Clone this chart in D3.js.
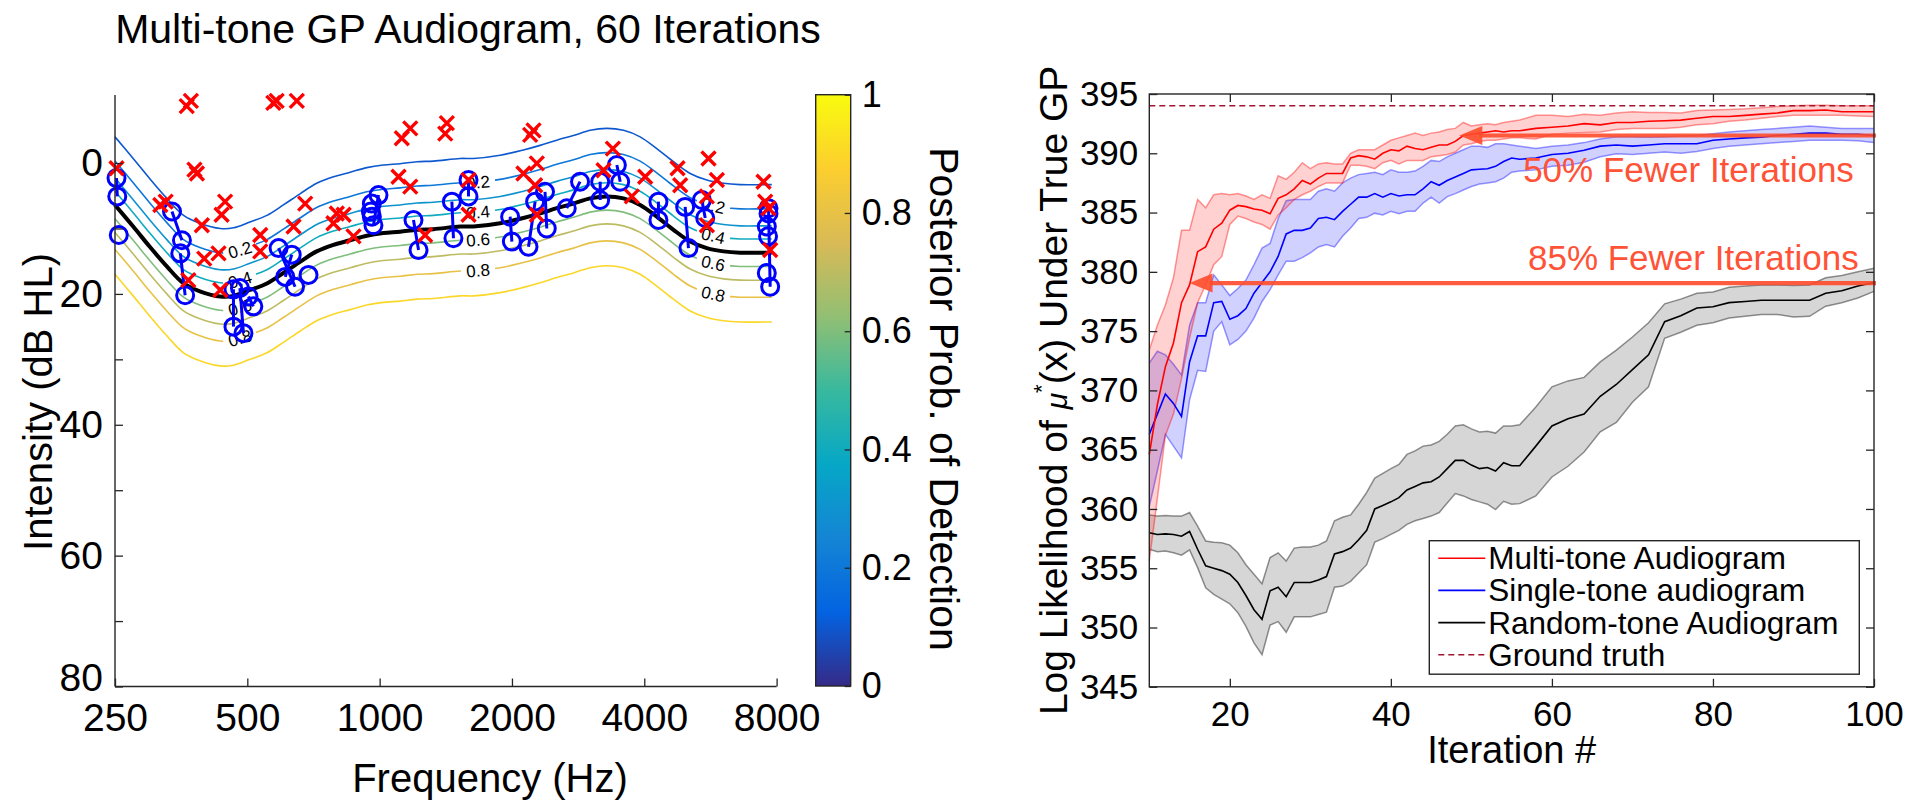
<!DOCTYPE html>
<html>
<head>
<meta charset="utf-8">
<script src="https://cdn.jsdelivr.net/npm/d3@7"></script>
<style>
body { margin: 0; background: #fff; }
text { font-family: "Liberation Sans", Arial, Helvetica, sans-serif; fill: #000; }
</style>
</head>
<body>
<div id="mainDiv"></div>
<script>
// ---------- left panel data ----------
// p = 0.5 threshold curve
var thrFreq = [250, 275, 300, 328, 358, 390, 434, 465, 507, 554, 604, 659, 719, 785, 857, 935, 1020, 1113, 1215, 1326, 1525, 1635, 1880, 2124, 2318, 2529, 2760, 3012, 3287, 3587, 3914, 4271, 4661, 5087, 5551, 6057, 6610, 7470, 7800];
var thrDb   = [6.4, 9.7, 12.8, 15.8, 18.4, 19.6, 20.4, 20.3, 19.4, 18.4, 16.8, 15.1, 13.5, 12.5, 11.8, 11.1, 10.7, 10.5, 10.2, 10.1, 9.7, 9.7, 9.2, 8.4, 7.7, 6.9, 6.2, 5.4, 5.1, 5.4, 6.4, 8.2, 10.2, 12.0, 13.0, 13.5, 13.7, 13.7, 13.7];
// contour levels and their distance (dB) from the threshold curve
var levels = [0.1, 0.2, 0.3, 0.4, 0.5, 0.6, 0.7, 0.8, 0.9];
var levelOffsetDb = [-10.4, -6.7, -4.1, -2.1, 0, 2.1, 4.2, 6.8, 10.6];
var labelLevels = [0.2, 0.4, 0.6, 0.8];
var labelFreqs = [481, 1675, 5740];

// tones not heard (red x)
var notHeard = [[364,-8.7],[372,-9.5],[573,-9.2],[583,-9.5],[648,-9.5],[379,1.0],[384,1.6],[252,0.8],[317,6.4],[326,5.9],
  [445,5.9],[437,7.9],[394,9.5],[535,11.0],[535,13.5],[399,14.6],[430,13.8],[367,17.9],[434,19.4],[677,6.2],
  [637,9.7],[799,7.7],[828,7.9],[785,9.2],[872,11.2],[1123,-3.8],[1174,-5.3],[1104,2.1],[1174,3.6],[1269,11.0],
  [1422,-6.1],[1410,-4.5],[2200,-4.3],[2239,-5.0],[2124,1.6],[2278,0.05],[2258,3.4],[2278,7.9],[1593,2.6],[1593,7.9],
  [3393,-2.2],[3231,1.1],[3748,5.1],[4019,2.1],[4761,0.8],[4828,3.4],[5600,-0.7],[5850,2.6],[5552,5.1],[5552,9.5],
  [7470,2.85],[7535,5.9],[7668,6.9],[7735,13.3]];

// tones heard (blue o), joined when played in the same trial
var heard = [
  [[252,2.3],[253,5.1]], [[255,11.0]], [[337,7.4],[355,11.8]], [[352,13.8],[361,20.2]],
  [[481,19.1],[490,26.0]], [[465,19.3],[465,25.0]], [[503,20.4],[516,21.9]],
  [[589,13.0],[642,18.9]], [[631,14.0],[610,17.4]], [[689,17.1]],
  [[994,4.9],[968,9.5]], [[960,6.2]], [[960,8.2]], [[955,7.4]],
  [[1194,8.7],[1226,13.3]], [[1460,5.9],[1472,11.5]], [[1593,2.6],[1593,5.1]],
  [[1981,8.2],[1999,12.0]], [[2258,5.9],[2181,12.8]], [[2378,4.4],[2400,10.0]],
  [[2665,6.9],[2857,2.85]], [[3175,2.85],[3175,5.65]], [[3465,0.3],[3526,2.85]],
  [[4308,5.9],[4308,8.7]], [[4955,6.7],[5042,13.0]], [[5408,5.65],[5504,8.4]],
  [[7668,6.9],[7735,18.9]], [[7668,7.7]], [[7600,9.7]], [[7650,11.2]], [[7600,16.8]]];

var freqTicks = [250, 500, 1000, 2000, 4000, 8000];
var dbTicks = [0, 10, 20, 30, 40, 50, 60, 70, 80];
var cbTicks = [0, 0.2, 0.4, 0.6, 0.8, 1];
var parulaStops = ["#352a87", "#0363e1", "#1485d4", "#06a7c6", "#38b99e", "#92bf73", "#d9ba56", "#fcce2e", "#f9fb0e"];

// ---------- right panel data ----------
var iterations = [10,11,12,13,14,15,16,17,18,19,20,21,22,23,24,25,26,27,28,29,30,31,32,33,34,35,36,37,38,39,
  40,41,42,43,44,45,46,47,48,49,50,51,52,53,54,55,56,58,60,62,64,66,68,70,72,74,76,78,80,82,84,86,88,90,92,94,96,98,100];

var multiMean = [364.6,368.8,372.0,374.0,377.4,378.9,381.7,382.1,383.6,384.1,385.2,385.6,385.5,385.3,385.2,384.9,386.2,386.5,387.0,387.7,
  387.4,387.9,388.3,388.3,388.3,389.6,389.8,389.7,389.5,390.0,390.3,390.2,390.6,390.4,390.3,390.5,390.7,390.7,391.0,391.5,
  391.6,391.7,391.8,391.9,391.8,391.9,391.9,
  392.1,392.2,392.3,392.5,392.4,392.6,392.6,392.7,392.75,392.8,392.95,393.1,393.1,393.2,393.3,393.4,393.6,393.6,393.65,393.5,393.5,393.5];
var multiHi = [373.4,375.5,377.2,379.5,383.5,383.5,386.1,385.4,386.5,386.6,386.5,386.6,386.4,386.1,386.5,386.2,388.1,387.8,388.4,389.2,
  388.7,389.1,389.2,389.1,389.1,390.0,390.3,390.3,390.3,390.7,391.1,391.3,391.5,391.7,391.5,391.7,391.8,392.0,392.1,392.6,
  392.3,392.4,392.5,392.4,392.6,392.7,392.8,
  393.2,393.2,393.1,393.3,393.2,393.4,393.5,393.45,393.45,393.4,393.6,393.65,393.7,393.75,393.85,393.95,394.0,394.05,394.05,394.0,394.0,394.0];
var multiLo = [355.6,360.9,366.2,368.0,371.0,374.4,377.4,378.9,380.6,381.3,384.0,384.7,384.5,384.2,384.0,383.6,384.8,385.4,386.1,386.5,
  386.8,387.2,387.5,387.5,387.5,389.0,389.0,388.9,388.7,389.2,389.4,389.1,389.4,389.4,389.4,389.7,389.8,389.9,390.1,390.7,
  390.8,391.0,391.1,391.1,391.2,391.3,391.3,
  391.2,391.6,391.7,391.75,391.8,392.0,392.1,392.1,392.1,392.2,392.4,392.5,392.7,392.8,392.95,393.1,393.2,393.2,393.2,393.2,393.15,393.1];

var singleMean = [366.3,368.0,369.7,368.9,367.8,372.4,374.6,374.6,377.4,377.5,376.0,376.3,376.9,378.2,379.1,380.0,381.3,383.2,383.5,383.5,
  383.7,384.5,384.6,384.4,385.1,385.7,386.3,386.3,386.6,386.3,386.6,386.4,386.5,386.5,387.0,387.6,387.3,387.7,388.0,388.3,
  388.6,388.65,388.7,388.9,389.3,389.6,389.5,
  389.6,389.9,390.0,390.25,390.6,390.7,390.6,390.7,390.8,390.8,390.8,391.1,391.2,391.3,391.35,391.5,391.6,391.7,391.7,391.6,391.6,391.5];
var singleHi = [372.3,373.3,373.0,372.2,371.3,375.5,377.4,377.4,379.75,378.9,378.0,378.6,379.3,380.6,382.0,382.4,384.5,386.0,386.1,386.1,
  386.1,386.8,387.0,386.8,387.5,387.9,388.2,388.3,388.4,388.2,388.6,388.4,388.4,388.5,388.9,389.4,389.3,389.7,390.0,390.3,
  390.6,390.6,390.5,390.8,390.8,390.7,390.6,
  390.4,390.6,390.7,390.9,391.2,391.4,391.4,391.35,391.4,391.45,391.5,391.65,391.8,391.9,392.0,392.1,392.2,392.3,392.2,392.1,392.1,392.1];
var singleLo = [360.2,363.2,366.3,365.3,364.3,369.2,371.7,371.6,375.0,375.8,373.85,374.3,375.0,376.1,377.5,378.5,379.75,380.9,380.9,381.2,
  381.6,382.1,382.3,382.1,383.0,383.7,384.5,384.6,384.95,384.8,385.1,384.9,385.1,385.1,385.8,386.3,385.8,386.35,386.6,386.9,
  387.2,387.4,387.5,387.6,387.9,388.4,388.5,
  388.6,388.9,389.0,389.25,389.7,389.95,389.9,390.0,390.1,390.0,390.15,390.4,390.6,390.7,390.8,390.9,391.0,391.1,391.1,391.1,391.05,390.9];

var randomMean = [358.0,357.85,357.9,357.85,357.7,358.1,356.6,355.2,355.0,354.8,354.5,353.8,352.7,351.5,350.7,353.1,353.4,352.6,353.8,353.8,
  353.8,354.0,354.3,356.2,356.4,356.7,357.4,358.2,360.0,360.3,360.6,360.95,361.6,361.9,362.2,362.3,362.7,363.4,364.1,364.1,
  363.7,363.4,363.5,363.2,363.9,363.65,363.65,
  365.3,367.0,367.6,368.0,369.5,370.5,371.75,373.0,375.8,376.3,376.95,377.05,377.4,377.5,377.6,377.6,377.6,377.6,378.2,378.4,378.8,379.1];
var randomHi = [359.5,359.4,359.45,359.4,359.4,359.7,358.55,357.3,357.2,357.15,356.95,356.3,355.3,354.5,353.7,355.9,356.3,355.6,356.7,356.8,
  356.8,356.95,357.3,359.0,359.3,359.5,360.4,361.4,362.6,363.0,363.4,363.75,364.6,364.9,365.3,365.4,365.7,366.3,367.0,367.1,
  366.75,366.5,366.55,366.4,367.0,367.0,367.1,
  368.6,370.3,370.8,371.1,372.4,373.4,374.5,375.7,377.3,377.7,378.2,378.3,378.7,378.8,378.9,378.9,378.85,378.9,379.5,379.7,380.0,380.3];
var randomLo = [356.6,356.4,356.45,356.3,356.1,356.55,355.05,353.35,352.8,352.4,352.0,351.25,350.1,348.7,347.7,350.2,350.5,349.6,350.9,350.9,
  350.9,351.1,351.3,353.4,353.5,353.9,354.6,355.3,357.2,357.5,357.85,358.2,358.7,359.0,359.2,359.4,359.7,360.5,361.3,361.1,
  360.8,360.6,360.4,359.95,360.65,360.4,360.45,
  361.1,362.7,363.6,364.8,366.5,367.3,369.0,370.3,374.4,374.9,375.5,375.7,376.1,376.25,376.4,376.4,376.2,376.25,377.1,377.4,377.8,378.35];

var groundTruth = 394.0;
var iterTicks = [20, 40, 60, 80, 100];
var llTicks = [345, 350, 355, 360, 365, 370, 375, 380, 385, 390, 395];
var seriesNames = ["Multi-tone Audiogram", "Single-tone audiogram", "Random-tone Audiogram", "Ground truth"];
// arrow annotations: tip iteration, level, text
var arrowIter = [48.5, 15];
var arrowLevel = [391.5, 379.05];
var arrowText = ["50% Fewer Iterations", "85% Fewer Iterations"];

// ---------- setup ----------
var svg = d3.select("#mainDiv").append("svg").attr("width", 1909).attr("height", 805);
var axisColor = "#262626";
var parula = d3.scaleLinear().domain(d3.range(9).map(function(i) { return i / 8; })).range(parulaStops);

function styleAxis(g, fs) {
  g.selectAll("path.domain").remove();
  g.selectAll(".tick line").attr("stroke", axisColor).attr("stroke-width", 1.3);
  g.selectAll(".tick text").attr("font-size", fs).attr("fill", "#000")
    .attr("font-family", "'Liberation Sans', Arial, sans-serif");
}

// ================= LEFT PANEL =================
var xL = d3.scaleLog().base(2).domain([250, 8000]).range([115, 776.6]);
var yL = d3.scaleLinear().domain([-10.4, 80]).range([95, 686.5]);
var left = svg.append("g");

var contourLine = d3.line()
  .x(function(d) { return xL(d[0]); })
  .y(function(d) { return yL(d[1]); })
  .curve(d3.curveCatmullRom);

function contourPts(off) {
  return thrFreq.map(function(f, i) { return [f, thrDb[i] + off]; });
}

levels.forEach(function(lv, k) {
  left.append("path").attr("d", contourLine(contourPts(levelOffsetDb[k])))
    .attr("fill", "none").attr("stroke", parula(lv)).attr("stroke-width", 1.6);
});
// threshold (0.5) in black
left.append("path").attr("d", contourLine(contourPts(0)))
  .attr("fill", "none").attr("stroke", "#000").attr("stroke-width", 4);

// contour labels
function thrAt(f) {
  var lf = Math.log2(f);
  for (var i = 0; i < thrFreq.length - 1; i++) {
    var a = Math.log2(thrFreq[i]), b = Math.log2(thrFreq[i + 1]);
    if (lf >= a && lf <= b) return thrDb[i] + (thrDb[i + 1] - thrDb[i]) * (lf - a) / (b - a);
  }
  return thrDb[thrDb.length - 1];
}
labelFreqs.forEach(function(f) {
  labelLevels.forEach(function(lv) {
    var off = levelOffsetDb[levels.indexOf(lv)];
    var x0 = xL(f / 1.06), x1 = xL(f * 1.06);
    var y0 = yL(thrAt(f / 1.06) + off), y1 = yL(thrAt(f * 1.06) + off);
    var ang = Math.atan2(y1 - y0, x1 - x0) * 180 / Math.PI;
    var g = left.append("g").attr("transform", "translate(" + xL(f) + "," + yL(thrAt(f) + off) + ") rotate(" + ang + ")");
    g.append("rect").attr("x", -17).attr("y", -5).attr("width", 34).attr("height", 10).attr("fill", "#fff");
    g.append("text").attr("text-anchor", "middle").attr("dy", "0.36em").attr("font-size", 17).text(lv.toFixed(1));
  });
});

// heard tones
var heardG = left.append("g");
heard.forEach(function(grp) {
  if (grp.length > 1) {
    heardG.append("path").attr("d", d3.line().x(function(d) { return xL(d[0]); }).y(function(d) { return yL(d[1]); })(grp))
      .attr("stroke", "#0000ff").attr("stroke-width", 3).attr("fill", "none");
  }
  grp.forEach(function(p) {
    heardG.append("circle").attr("cx", xL(p[0])).attr("cy", yL(p[1])).attr("r", 8.5)
      .attr("fill", "none").attr("stroke", "#0000ff").attr("stroke-width", 3);
  });
});
// not-heard tones
left.append("g").selectAll("path").data(notHeard).enter().append("path")
  .attr("transform", function(d) { return "translate(" + xL(d[0]) + "," + yL(d[1]) + ")"; })
  .attr("d", "M-7,-7L7,7M-7,7L7,-7")
  .attr("stroke", "#ff0000").attr("stroke-width", 3.4).attr("fill", "none");

// axes (box off)
var gxL = left.append("g").attr("transform", "translate(0,686.5)")
  .call(d3.axisBottom(xL).tickValues(freqTicks).tickFormat(d3.format("d")).tickSizeInner(-8).tickSizeOuter(0).tickPadding(17));
styleAxis(gxL, 39);
var gyL = left.append("g").attr("transform", "translate(115,0)")
  .call(d3.axisLeft(yL).tickValues(dbTicks).tickFormat(function(d) { return d % 20 === 0 ? d : ""; })
    .tickSizeInner(-8).tickSizeOuter(0).tickPadding(12));
styleAxis(gyL, 39);
gyL.selectAll(".tick text").attr("dy", function(d) { return d === 80 ? "0.1em" : "0.32em"; });
left.append("line").attr("x1", 115).attr("x2", 776.6).attr("y1", 686.5).attr("y2", 686.5).attr("stroke", axisColor).attr("stroke-width", 1.4);
left.append("line").attr("x1", 115).attr("x2", 115).attr("y1", 95).attr("y2", 686.5).attr("stroke", axisColor).attr("stroke-width", 1.4);

left.append("text").attr("x", 468).attr("y", 43).attr("text-anchor", "middle").attr("font-size", 41)
  .text("Multi-tone GP Audiogram, 60 Iterations");
left.append("text").attr("x", 490).attr("y", 792).attr("text-anchor", "middle").attr("font-size", 40).text("Frequency (Hz)");
left.append("text").attr("transform", "translate(52,402) rotate(-90)").attr("text-anchor", "middle").attr("font-size", 40)
  .text("Intensity (dB HL)");

// colorbar
var cbY = d3.scaleLinear().domain([0, 1]).range([686, 94.7]);
var grad = svg.append("defs").append("linearGradient").attr("id", "parulaGrad")
  .attr("x1", 0).attr("y1", 1).attr("x2", 0).attr("y2", 0);
parulaStops.forEach(function(c, i) {
  grad.append("stop").attr("offset", (i / 8 * 100) + "%").attr("stop-color", c);
});
svg.append("rect").attr("x", 815.7).attr("y", cbY(1)).attr("width", 35).attr("height", cbY(0) - cbY(1))
  .attr("fill", "url(#parulaGrad)").attr("stroke", axisColor).attr("stroke-width", 1.4);
var gcb = svg.append("g").attr("transform", "translate(850.7,0)")
  .call(d3.axisRight(cbY).tickValues(cbTicks).tickFormat(function(d) { return d === 0 || d === 1 ? d : d.toFixed(1); })
    .tickSizeInner(-6).tickSizeOuter(0).tickPadding(11));
styleAxis(gcb, 36);
svg.append("text").attr("transform", "translate(930,399) rotate(90)").attr("text-anchor", "middle").attr("font-size", 41)
  .text("Posterior Prob. of Detection");

// ================= RIGHT PANEL =================
var xR = d3.scaleLinear().domain([10, 100]).range([1149.3, 1874]);
var yR = d3.scaleLinear().domain([345, 395]).range([686.8, 94]);
var right = svg.append("g");

var series = [
  { mean: randomMean, lo: randomLo, hi: randomHi, line: "#000000", fill: "rgba(0,0,0,0.16)", edge: "rgba(0,0,0,0.42)" },
  { mean: singleMean, lo: singleLo, hi: singleHi, line: "#0000ff", fill: "rgba(0,0,255,0.18)", edge: "rgba(0,0,255,0.4)" },
  { mean: multiMean, lo: multiLo, hi: multiHi, line: "#ff0000", fill: "rgba(255,0,0,0.18)", edge: "rgba(255,0,0,0.4)" }
];
var idx = d3.range(iterations.length);
series.forEach(function(s) {
  right.append("path").datum(idx)
    .attr("d", d3.area().x(function(i) { return xR(iterations[i]); }).y0(function(i) { return yR(s.lo[i]); }).y1(function(i) { return yR(s.hi[i]); }))
    .attr("fill", s.fill).attr("stroke", "none");
  [s.lo, s.hi].forEach(function(arr) {
    right.append("path").datum(idx)
      .attr("d", d3.line().x(function(i) { return xR(iterations[i]); }).y(function(i) { return yR(arr[i]); }))
      .attr("fill", "none").attr("stroke", s.edge).attr("stroke-width", 1.5);
  });
});
series.forEach(function(s) {
  right.append("path").datum(idx)
    .attr("d", d3.line().x(function(i) { return xR(iterations[i]); }).y(function(i) { return yR(s.mean[i]); }))
    .attr("fill", "none").attr("stroke", s.line).attr("stroke-width", 1.6);
});
right.append("line").attr("x1", xR(10)).attr("x2", xR(100)).attr("y1", yR(groundTruth)).attr("y2", yR(groundTruth))
  .attr("stroke", "#a2142f").attr("stroke-width", 1.5).attr("stroke-dasharray", "6,4");

// arrows + annotation text
var arrowColor = "#ff4b2b";
arrowIter.forEach(function(it, k) {
  var tx = xR(it), ty = yR(arrowLevel[k]);
  right.append("line").attr("x1", tx + 20).attr("x2", xR(100) + 2).attr("y1", ty).attr("y2", ty)
    .attr("stroke", arrowColor).attr("stroke-width", 4.2).attr("opacity", 0.9);
  right.append("path").attr("d", "M" + tx + "," + ty + "L" + (tx + 23) + "," + (ty - 9.5) + "L" + (tx + 23) + "," + (ty + 9.5) + "Z")
    .attr("fill", arrowColor).attr("opacity", 0.9);
});
right.append("text").attr("x", xR(97.5)).attr("y", yR(387.6)).attr("text-anchor", "end").attr("font-size", 35)
  .style("fill", "#ff5236").text(arrowText[0]);
right.append("text").attr("x", xR(98.1)).attr("y", yR(380.15)).attr("text-anchor", "end").attr("font-size", 35)
  .style("fill", "#ff5236").text(arrowText[1]);

// axes with mirrored ticks
var gxR = right.append("g").attr("transform", "translate(0," + yR(345) + ")")
  .call(d3.axisBottom(xR).tickValues(iterTicks).tickSizeInner(-8).tickSizeOuter(0).tickPadding(14));
styleAxis(gxR, 35);
var gxR2 = right.append("g").attr("transform", "translate(0," + yR(395) + ")")
  .call(d3.axisTop(xR).tickValues(iterTicks).tickFormat("").tickSizeInner(-8).tickSizeOuter(0));
styleAxis(gxR2, 35);
var gyR = right.append("g").attr("transform", "translate(" + xR(10) + ",0)")
  .call(d3.axisLeft(yR).tickValues(llTicks).tickSizeInner(-8).tickSizeOuter(0).tickPadding(11));
styleAxis(gyR, 35);
var gyR2 = right.append("g").attr("transform", "translate(" + xR(100) + ",0)")
  .call(d3.axisRight(yR).tickValues(llTicks).tickFormat("").tickSizeInner(-8).tickSizeOuter(0));
styleAxis(gyR2, 35);
right.append("rect").attr("x", xR(10)).attr("y", yR(395)).attr("width", xR(100) - xR(10)).attr("height", yR(345) - yR(395))
  .attr("fill", "none").attr("stroke", axisColor).attr("stroke-width", 1.4);

right.append("text").attr("x", (xR(10) + xR(100)) / 2).attr("y", 763).attr("text-anchor", "middle").attr("font-size", 38)
  .text("Iteration #");
var yl = right.append("text").attr("transform", "translate(1067," + (yR(370)) + ") rotate(-90)")
  .attr("text-anchor", "middle").attr("font-size", 39);
yl.append("tspan").text("Log Likelihood of ");
yl.append("tspan").attr("font-style", "italic").attr("font-size", 30).text("\u03bc");
yl.append("tspan").attr("font-size", 22).attr("dy", -18).text("*");
yl.append("tspan").attr("dy", 18).text("(x) Under True GP");

// legend
var leg = right.append("g").attr("transform", "translate(1429.3,540.7)");
leg.append("rect").attr("width", 430).attr("height", 133.5).attr("fill", "#fff").attr("stroke", axisColor).attr("stroke-width", 1.4);
var legColors = ["#ff0000", "#0000ff", "#000000", "#a2142f"];
seriesNames.forEach(function(name, i) {
  var cy = 17.5 + i * 32.2;
  leg.append("line").attr("x1", 9).attr("x2", 56).attr("y1", cy).attr("y2", cy)
    .attr("stroke", legColors[i]).attr("stroke-width", 1.6).attr("stroke-dasharray", i === 3 ? "6,4" : null);
  leg.append("text").attr("x", 59).attr("y", cy).attr("dy", "0.35em").attr("font-size", 31.5).text(name);
});
</script>
</body>
</html>
